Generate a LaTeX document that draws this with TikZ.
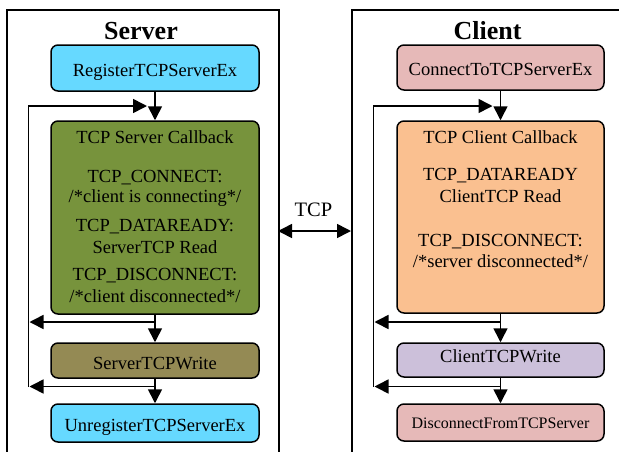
\documentclass[tikz,border=0pt]{standalone}
\usepackage{fontspec}
\setmainfont{Liberation Serif}
\usetikzlibrary{arrows.meta}
\definecolor{cyanbox}{RGB}{102,217,255}
\definecolor{olivebox}{RGB}{119,147,60}
\definecolor{khakibox}{RGB}{148,138,84}
\definecolor{pinkbox}{RGB}{230,185,184}
\definecolor{peachbox}{RGB}{250,192,144}
\definecolor{lavbox}{RGB}{204,192,218}
\begin{document}
\begin{tikzpicture}[x=1pt,y=-1pt,
  box/.style={draw=black, line width=1.5pt, rounded corners=7pt, minimum width=208pt,
    inner sep=0pt, text depth=0pt, font=\fontsize{18.5}{22}\selectfont},
  txt/.style={anchor=base, inner sep=0pt, font=\fontsize{18.5}{22}\selectfont},
  titletxt/.style={anchor=base, inner sep=0pt, font=\fontsize{26}{30}\selectfont\bfseries},
  conn/.style={line width=1.6pt},
  arr/.style={conn, -{Triangle[length=14pt,width=14pt]}},
  darr/.style={conn, {Triangle[length=14pt,width=14pt]}-{Triangle[length=14pt,width=14pt]}},
  panel/.style={draw=black, line width=1.5pt, inner sep=0pt, anchor=north west}]
\useasboundingbox (0,0) rectangle (619,451);
\clip (0,0) rectangle (619,451);

% panels
\node[panel, minimum width=272pt, minimum height=480pt] (spanel) at (6,9) {};
\node[panel, minimum width=300pt, minimum height=480pt] (cpanel) at (351,9) {};

% titles
\node[titletxt] (stitle) at (141,39) {Server};
\node[titletxt] (ctitle) at (487.5,39) {Client};

% server boxes
\node[box, fill=cyanbox, minimum height=46pt, text height=16pt] (reg) at (155,68) {RegisterTCPServerEx};
\node[box, fill=olivebox, minimum height=193pt] (scb) at (155,217.5) {};
\node[txt] (scb0) at (155,143) {TCP Server Callback};
\node[txt] (scb1) at (155,182) {TCP\_CONNECT:};
\node[txt] (scb2) at (155,202) {/*client is connecting*/};
\node[txt] (scb3) at (155,231) {TCP\_DATAREADY:};
\node[txt] (scb4) at (155,253) {ServerTCP Read};
\node[txt] (scb5) at (155,280) {TCP\_DISCONNECT:};
\node[txt] (scb6) at (155,302) {/*client disconnected*/};
\node[box, fill=khakibox, minimum height=35pt, text height=17pt] (swrite) at (155,360.5) {ServerTCPWrite};
\node[box, fill=cyanbox, minimum height=38pt, text height=17pt] (unreg) at (155,423) {UnregisterTCPServerEx};

% client boxes
\node[box, fill=pinkbox, minimum width=207pt, minimum height=45pt, text height=15pt] (ctcp) at (500.5,67.5) {ConnectToTCPServerEx};
\node[box, fill=peachbox, minimum width=207pt, minimum height=192pt] (ccb) at (500.5,217) {};
\node[txt] (ccb0) at (500.5,143) {TCP Client Callback};
\node[txt] (ccb1) at (500.5,180) {TCP\_DATAREADY};
\node[txt] (ccb2) at (500.5,202) {ClientTCP Read};
\node[txt] (ccb3) at (500.5,246) {TCP\_DISCONNECT:};
\node[txt] (ccb4) at (500.5,267) {/*server disconnected*/};
\node[box, fill=lavbox, minimum width=207pt, minimum height=34pt, text height=4pt] (cwrite) at (500.5,360) {ClientTCPWrite};
\node[box, fill=pinkbox, minimum width=207pt, minimum height=37pt, text height=11.6pt,
  font=\fontsize{16}{19}\selectfont] (disc) at (500.5,422.5) {DisconnectFromTCPServer};

% server connectors
\coordinate (sj1) at (155,322);
\coordinate (sl1) at (29.5,322);
\coordinate (sj2) at (155,386.5);
\coordinate (sl2) at (29.5,386.5);
\coordinate (sbot) at (28.3,387);
\coordinate (stop) at (28.3,106);
\coordinate (sin) at (147,106);
\draw[arr] (reg.south) -- (scb.north);
\draw[arr] (scb.south) -- (swrite.north);
\draw[arr] (swrite.south) -- (unreg.north);
\draw[arr] (sj1) -- (sl1);
\draw[arr] (sj2) -- (sl2);
\draw[arr] (sbot) -- (stop) -- (sin);

% client connectors
\coordinate (cj1) at (500.5,322);
\coordinate (cl1) at (374.5,322);
\coordinate (cj2) at (500.5,386.5);
\coordinate (cl2) at (374.5,386.5);
\coordinate (cbot) at (373.3,387);
\coordinate (ctop) at (373.3,106);
\coordinate (cin) at (492.5,106);
\draw[arr] (ctcp.south) -- (ccb.north);
\draw[arr] (ccb.south) -- (cwrite.north);
\draw[arr] (cwrite.south) -- (disc.north);
\draw[arr] (cj1) -- (cl1);
\draw[arr] (cj2) -- (cl2);
\draw[arr] (cbot) -- (ctop) -- (cin);

% TCP link
\coordinate (tcpL) at (278,231);
\coordinate (tcpR) at (351,231);
\draw[darr] (tcpL) -- (tcpR);
\node[txt, font=\fontsize{20.5}{24}\selectfont] (tcplbl) at (313.5,216) {TCP};
\end{tikzpicture}
\end{document}
